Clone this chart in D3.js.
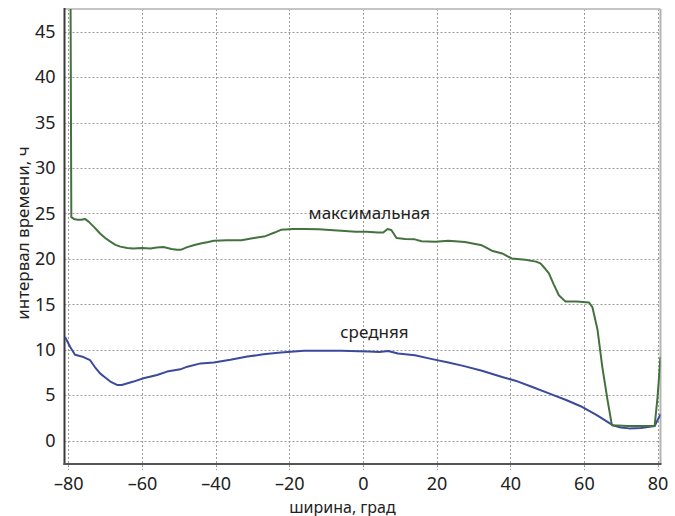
<!DOCTYPE html>
<html>
<head>
<meta charset="utf-8">
<script src="https://cdn.jsdelivr.net/npm/d3@7"></script>
<style>
  html, body { margin: 0; padding: 0; background: #fff; }
  svg { display: block; font-family: "Noto Sans", "Open Sans", sans-serif; }
</style>
</head>
<body>
<svg id="chart" width="675" height="516"></svg>
<script>
// Latitude (deg) and time interval (h) for the maximum curve
const maxLat = [-79.4, -79.2, -78.5, -77.5, -76.5, -75.5, -74.5, -73.0, -71.4, -70.0,
  -68.6, -67.2, -65.9, -64.0, -62.4, -60.0, -57.7, -56.0, -54.2, -52.0,
  -50.5, -49.5, -47.7, -46.0, -44.1, -42.0, -40.5, -37.0, -33.0, -29.6,
  -26.5, -24.0, -22.3, -19.0, -16.0, -12.0, -8.0, -5.9, -2.0, 1.0,
  4.1, 5.5, 6.7, 7.75, 9.1, 11.5, 14.1, 15.9, 19.6, 23.2,
  27.7, 30.5, 32.3, 35.0, 37.8, 40.4, 44.1, 47.0, 48.2, 49.3,
  50.5, 51.8, 53.2, 55.0, 58.0, 61.4, 62.3, 63.7, 65.0, 66.4,
  67.6, 72.0, 79.2, 80.0, 80.8];
const maxHours = [48, 24.6, 24.4, 24.3, 24.3, 24.4, 24.1, 23.5, 22.8, 22.3,
  21.9, 21.55, 21.35, 21.2, 21.15, 21.2, 21.15, 21.25, 21.3, 21.1,
  21.0, 21.0, 21.3, 21.5, 21.7, 21.85, 22.0, 22.05, 22.05, 22.3,
  22.5, 22.9, 23.2, 23.3, 23.3, 23.25, 23.15, 23.1, 23.0, 23.0,
  22.9, 22.9, 23.3, 23.15, 22.3, 22.2, 22.15, 21.95, 21.9, 22.0,
  21.85, 21.65, 21.5, 20.9, 20.6, 20.05, 19.9, 19.7, 19.5, 19.0,
  18.4, 17.2, 16.0, 15.3, 15.3, 15.2, 14.7, 12.2, 8.1, 4.5,
  1.7, 1.6, 1.6, 4.8, 9.2];

// Latitude (deg) and time interval (h) for the mean curve
const meanLat = [-80.9, -79.5, -78.2, -75.9, -74.1, -72.8, -71.4, -70.0, -68.6, -66.8,
  -65.5, -62.3, -59.6, -55.9, -53.2, -49.6, -47.7, -44.1, -40.5, -36.0,
  -31.4, -27.0, -22.3, -16.0, -10.0, -5.9, 1.4, 4.5, 6.85, 9.5,
  14.1, 18.5, 23.2, 27.5, 32.3, 37.8, 41.4, 46.0, 50.5, 55.0,
  59.6, 63.5, 67.8, 70.0, 72.3, 75.5, 79.2, 80.8];
const meanHours = [11.4, 10.3, 9.45, 9.2, 8.85, 8.1, 7.4, 6.95, 6.5, 6.13,
  6.13, 6.5, 6.86, 7.23, 7.6, 7.85, 8.14, 8.5, 8.6, 8.9,
  9.25, 9.5, 9.7, 9.9, 9.9, 9.9, 9.8, 9.75, 9.87, 9.6,
  9.4, 9.0, 8.6, 8.2, 7.7, 7.0, 6.6, 5.9, 5.2, 4.5,
  3.7, 2.8, 1.7, 1.45, 1.35, 1.4, 1.6, 2.9];

const xTicks = [-80, -60, -40, -20, 0, 20, 40, 60, 80];
const yTicks = [0, 5, 10, 15, 20, 25, 30, 35, 40, 45];

const seriesNames = ["максимальная", "средняя"];
const seriesLabelAt = [[1.75, 24.4], [3.1, 11.3]];
const xTitle = "ширина, град";
const yTitle = "интервал времени, ч";

const plotLeft = 64.5, plotRight = 660.5, plotTop = 9, plotBottom = 464;
const x = d3.scaleLinear().domain([-81.05, 80.8]).range([plotLeft, plotRight]);
const y = d3.scaleLinear().domain([-2.57, 47.5]).range([plotBottom, plotTop]);

const svg = d3.select("#chart");

svg.append("defs").append("clipPath").attr("id", "plot-clip")
  .append("rect").attr("x", plotLeft).attr("y", plotTop)
  .attr("width", plotRight - plotLeft).attr("height", plotBottom - plotTop);

// dotted grid
const grid = svg.append("g").attr("stroke", "#9a9a9a").attr("stroke-width", 1)
  .attr("stroke-dasharray", "2,2");
grid.selectAll("line.v").data(xTicks).join("line").attr("class", "v")
  .attr("x1", d => Math.round(x(d)) + 0.5).attr("x2", d => Math.round(x(d)) + 0.5)
  .attr("y1", plotTop).attr("y2", plotBottom + 6);
grid.selectAll("line.h").data(yTicks).join("line").attr("class", "h")
  .attr("x1", plotLeft).attr("x2", plotRight)
  .attr("y1", d => Math.round(y(d)) + 0.5).attr("y2", d => Math.round(y(d)) + 0.5);

// frame: light top/right, dark left/bottom
svg.append("line").attr("x1", plotLeft).attr("x2", plotRight).attr("y1", plotTop).attr("y2", plotTop)
  .attr("stroke", "#c4c4c4").attr("stroke-width", 2);
svg.append("line").attr("x1", plotRight).attr("x2", plotRight).attr("y1", plotTop).attr("y2", plotBottom)
  .attr("stroke", "#b4b4b4").attr("stroke-width", 2);

// axes
const xAxis = d3.axisBottom(x).tickValues(xTicks).tickSize(0).tickPadding(13)
  .tickFormat(d => d < 0 ? "\u2013" + Math.abs(d) : String(d));
const gx = svg.append("g").attr("transform", `translate(0,${plotBottom})`).call(xAxis);
gx.select(".domain").remove();
gx.selectAll("text").attr("font-size", 18).attr("fill", "#222")
  .attr("font-family", "'Noto Sans', sans-serif");

const yAxis = d3.axisLeft(y).tickValues(yTicks).tickSize(0).tickPadding(9);
const gy = svg.append("g").attr("transform", `translate(${plotLeft},0)`).call(yAxis);
gy.select(".domain").remove();
gy.selectAll("text").attr("font-size", 18).attr("fill", "#222")
  .attr("font-family", "'Noto Sans', sans-serif");

svg.append("line").attr("x1", plotLeft).attr("x2", plotLeft).attr("y1", plotTop - 1).attr("y2", plotBottom + 1)
  .attr("stroke", "#3a3a3a").attr("stroke-width", 2);
svg.append("line").attr("x1", plotLeft - 1).attr("x2", plotRight + 1).attr("y1", plotBottom).attr("y2", plotBottom)
  .attr("stroke", "#555").attr("stroke-width", 2);

// curves
const line = d3.line().x(d => x(d[0])).y(d => y(d[1]));
const plot = svg.append("g").attr("clip-path", "url(#plot-clip)");
plot.append("path").datum(d3.zip(meanLat, meanHours))
  .attr("d", line).attr("fill", "none").attr("stroke", "#3b4a9c").attr("stroke-width", 2)
  .attr("stroke-linejoin", "round");
plot.append("path").datum(d3.zip(maxLat, maxHours))
  .attr("d", line).attr("fill", "none").attr("stroke", "#44723f").attr("stroke-width", 2)
  .attr("stroke-linejoin", "round");

// curve labels
svg.append("g").selectAll("text").data(seriesNames).join("text")
  .attr("x", (d, i) => x(seriesLabelAt[i][0]))
  .attr("y", (d, i) => y(seriesLabelAt[i][1]))
  .attr("text-anchor", "middle").attr("font-size", 17).attr("fill", "#222")
  .text(d => d);

// axis titles
svg.append("text").attr("x", 342.5).attr("y", 512.5).attr("text-anchor", "middle")
  .attr("font-size", 16).attr("fill", "#222").text(xTitle);
svg.append("text").attr("transform", "translate(29,233) rotate(-90)")
  .attr("text-anchor", "middle").attr("font-size", 17).attr("fill", "#222").text(yTitle);
</script>
</body>
</html>
